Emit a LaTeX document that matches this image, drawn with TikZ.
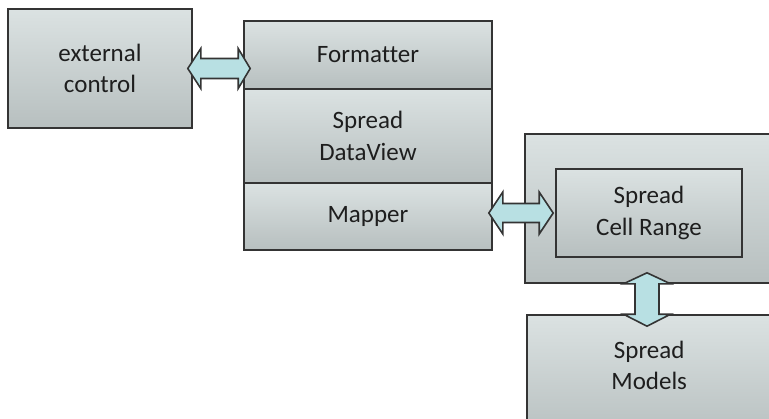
\documentclass[tikz,border=0pt]{standalone}
\usepackage{fontspec}
\setmainfont{Carlito}[Ligatures=NoCommon]
\usetikzlibrary{calc}
\definecolor{boxtop}{RGB}{219,226,226}
\definecolor{boxbot}{RGB}{183,191,191}
\definecolor{edgegray}{RGB}{52,52,52}
\definecolor{arrowfill}{RGB}{184,224,227}
\definecolor{textgray}{RGB}{30,30,30}

\begin{document}
\begin{tikzpicture}[x=1pt,y=-1pt,
  blockbox/.style={draw=edgegray, line width=1.6pt, top color=boxtop, bottom color=boxbot,
    inner sep=0pt, align=center, text=textgray, font=\fontsize{25}{31.5}\selectfont},
  labeltext/.style={inner sep=0pt, align=center, text=textgray, font=\fontsize{25}{31.5}\selectfont},
  twinarrow/.style={draw=edgegray, line width=1.6pt, fill=arrowfill, line join=miter}]
\clip (0,0) rectangle (769,418);
\node[blockbox, minimum width=184, minimum height=119] (ctrl) at (100,68.5) {external\\control};
\node[blockbox, minimum width=248, minimum height=68] (fmt) at (368,55) {Formatter};
\node[blockbox, minimum width=248, minimum height=94] (view) at (368,136) {Spread\\DataView};
\node[blockbox, minimum width=248, minimum height=67] (mapper) at (368,216.5) {Mapper};
\node[blockbox, minimum width=275, minimum height=149] (rangebox) at (662.5,208.5) {};
\node[blockbox, minimum width=186, minimum height=88] (cells) at (649,213) {Spread\\Cell Range};
\node[blockbox, minimum width=273, minimum height=125] (models) at (663.5,377.5) {};
\node[labeltext] (modelstxt) at ($(models.north west)+(123,51)$) {Spread\\Models};

\coordinate (a1) at ($(ctrl.east)+(-5,0)$);
\coordinate (a2) at ($(fmt.west|-ctrl.east)+(7,0)$);
\draw[twinarrow] (a1) -- ++(13,-20) -- ++(0,10) -- ($(a2)+(-12,-10)$) -- ++(0,-10) -- (a2)
  -- ++(-12,20) -- ++(0,-10) -- ($(a1)+(13,10)$) -- ++(0,10) -- cycle;

\coordinate (b1) at ($(mapper.east|-cells.west)+(-4,0)$);
\coordinate (b2) at ($(cells.west)+(-2,0)$);
\draw[twinarrow] (b1) -- ++(14,-21) -- ++(0,11.5) -- ($(b2)+(-14,-9.5)$) -- ++(0,-11.5) -- (b2)
  -- ++(-14,21) -- ++(0,-11.5) -- ($(b1)+(14,9.5)$) -- ++(0,11.5) -- cycle;

\coordinate (c1) at ($(cells.south|-rangebox.south)+(-2,-11)$);
\coordinate (c2) at ($(cells.south|-models.north)+(-2,12)$);
\draw[twinarrow] (c1) -- ++(23.5,11) -- ++(-11.5,0) -- ($(c2)+(12,-12)$) -- ++(11.5,0) -- (c2)
  -- ++(-23.5,-12) -- ++(11.5,0) -- ($(c1)+(-12,11)$) -- ++(-11.5,0) -- cycle;
\end{tikzpicture}
\end{document}
